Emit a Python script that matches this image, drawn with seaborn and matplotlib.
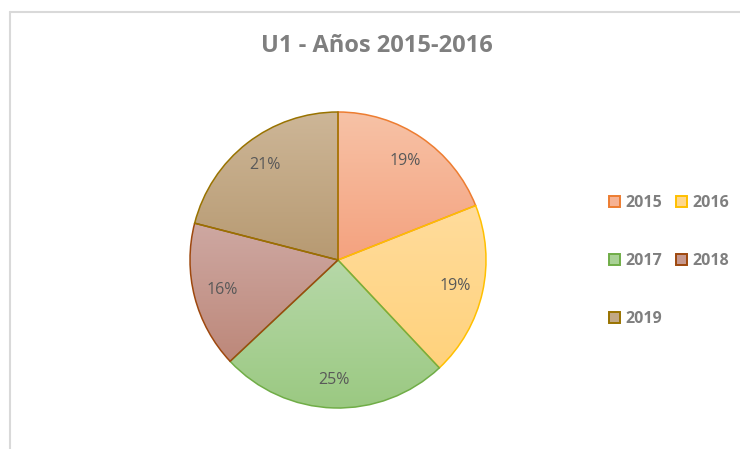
import numpy as np
import matplotlib
matplotlib.use("Agg")
import matplotlib.pyplot as plt
import seaborn as sns
from matplotlib.patches import Patch
from matplotlib.colors import to_rgb

sns.set_theme(style="white")
plt.rcParams['font.family'] = ['Open Sans', 'DejaVu Sans']

# Data
years = ["2015", "2016", "2017", "2018", "2019"]
shares = [19, 19, 25, 16, 21]
top_colors = ["#F7C2A6", "#FFDC9C", "#B6D8A8", "#CEA8A2", "#CDB697"]
bottom_colors = ["#F4A27F", "#FFD27C", "#9BC982", "#BD887A", "#B79A72"]
edge_colors = ["#ED7D31", "#FFC000", "#70AD47", "#9E480E", "#997300"]
title = "U1 - Años 2015-2016"

W, H = 740, 449
fig = plt.figure(figsize=(W / 100, H / 100), dpi=100)
fig.patch.set_facecolor("white")

# chart frame lines (light gray)
fig.add_artist(plt.Line2D([9.5 / W, 1.0], [1 - 11.5 / H, 1 - 11.5 / H], color="#D9D9D9", lw=1.5))
fig.add_artist(plt.Line2D([9.5 / W, 9.5 / W], [0, 1 - 11.5 / H], color="#D9D9D9", lw=1.5))

cx, cy, r = 338, 260, 148
ax = fig.add_axes([(cx - r) / W, (H - cy - r) / H, 2 * r / W, 2 * r / H])
ax.set_xlim(-1, 1)
ax.set_ylim(-1, 1)
ax.set_aspect("equal")
ax.axis("off")

mids = [tuple((np.array(to_rgb(t)) + np.array(to_rgb(b))) / 2) for t, b in zip(top_colors, bottom_colors)]

wedges, texts, autotexts = ax.pie(
    shares, startangle=90, counterclock=False, radius=1,
    colors=["none"] * len(shares),
    autopct=lambda p: f"{p:.0f}%", pctdistance=0.81,
    wedgeprops=dict(linewidth=1.1),
    textprops=dict(color="#595959", fontsize=11.5),
)

for w, tc, bc, ec in zip(wedges, top_colors, bottom_colors, edge_colors):
    w.set_edgecolor(ec)
    w.set_facecolor("none")
    w.set_zorder(3)
    ext = w.get_path().get_extents()
    n = 64
    t = np.linspace(0, 1, n)[:, None]
    grad = (1 - t) * np.array(to_rgb(tc)) + t * np.array(to_rgb(bc))
    img = np.repeat(grad[:, None, :], 2, axis=1)
    im = ax.imshow(img, extent=(ext.x0, ext.x1, ext.y0, ext.y1), origin="upper",
                   aspect="auto", interpolation="bilinear", zorder=2)
    im.set_clip_path(w)

ax.set_xlim(-1, 1)
ax.set_ylim(-1, 1)
for t in autotexts:
    t.set_zorder(5)

fig.text(377 / W, 1 - 46 / H, title, ha="center", va="center",
         fontsize=17, fontweight="bold", color="#7F7F7F")

handles = [Patch(facecolor=m, edgecolor=e, linewidth=1.4) for m, e in zip(mids, edge_colors)]
# row-major order for two columns
order = [0, 2, 4, 1, 3]
leg = fig.legend([handles[i] for i in order], [years[i] for i in order], ncol=2,
                 loc="upper left", bbox_to_anchor=(595 / W, 1 - 181 / H), frameon=False,
                 labelspacing=2.62, columnspacing=0.9,
                 handlelength=0.65, handleheight=0.65, handletextpad=0.35,
                 prop=dict(weight="bold", size=11.5))
for txt in leg.get_texts():
    txt.set_color("#7F7F7F")

fig.savefig("out.png", dpi=100, facecolor="white")
